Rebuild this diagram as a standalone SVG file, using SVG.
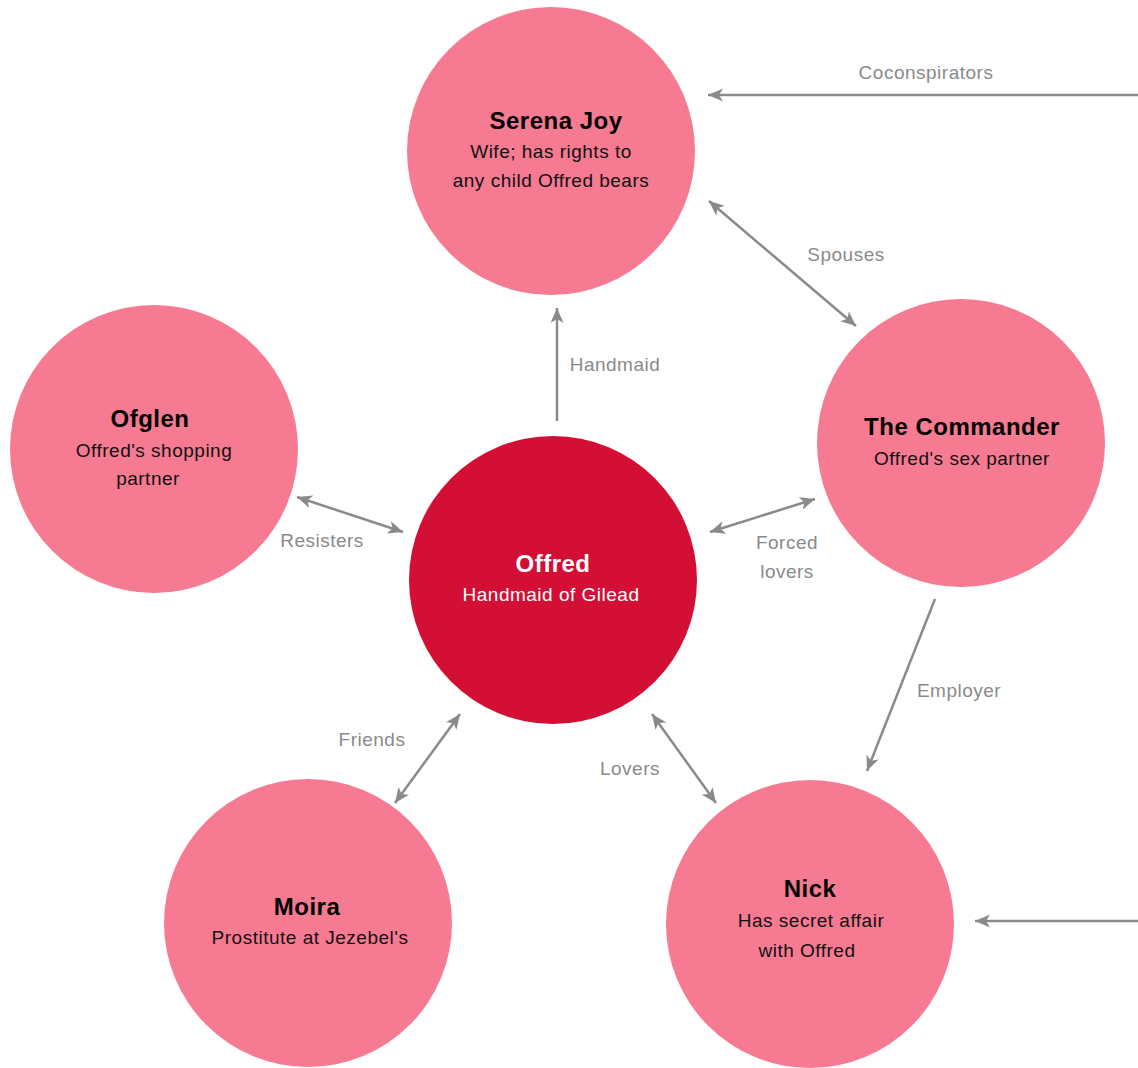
<svg xmlns="http://www.w3.org/2000/svg" width="1138" height="1068" viewBox="0 0 1138 1068">
<style>
.node{fill:#F67A91}
.main{fill:#D30F35}
.t{font-family:"Liberation Sans",Arial,sans-serif;text-anchor:middle;letter-spacing:0.5px}
.title{font-size:24px;font-weight:bold;fill:#000}
.sub{font-size:19px;fill:#111}
.w{fill:#fff}
.lbl{font-family:"Liberation Sans",Arial,sans-serif;font-size:19px;fill:#8a8a8a;text-anchor:middle;letter-spacing:0.5px}
.edge{stroke:#8a8a8a;stroke-width:2.5;fill:none}
</style>
<defs>
<marker id="ah" markerUnits="userSpaceOnUse" markerWidth="16" markerHeight="14" refX="15" refY="6.5" orient="auto-start-reverse" viewBox="0 0 16 13">
<path d="M0,0 L15,6.5 L0,13 L4,6.5 z" fill="#8a8a8a"/>
</marker>
</defs>
<rect width="1138" height="1068" fill="#fff"/>
<g id="connectors">
<line class="edge" x1="1138" y1="95" x2="708" y2="95" marker-end="url(#ah)"/>
<line class="edge" x1="709" y1="201" x2="856" y2="326" marker-start="url(#ah)" marker-end="url(#ah)"/>
<line class="edge" x1="557" y1="421" x2="557" y2="308" marker-end="url(#ah)"/>
<line class="edge" x1="297" y1="497" x2="403" y2="532" marker-start="url(#ah)" marker-end="url(#ah)"/>
<line class="edge" x1="710" y1="532" x2="815" y2="499" marker-start="url(#ah)" marker-end="url(#ah)"/>
<line class="edge" x1="935" y1="599" x2="867" y2="771" marker-end="url(#ah)"/>
<line class="edge" x1="460" y1="714" x2="395" y2="803" marker-start="url(#ah)" marker-end="url(#ah)"/>
<line class="edge" x1="652" y1="714" x2="716" y2="803" marker-start="url(#ah)" marker-end="url(#ah)"/>
<line class="edge" x1="1138" y1="921" x2="975" y2="921" marker-end="url(#ah)"/>
<text class="lbl" x="926" y="79">Coconspirators</text>
<text class="lbl" x="846" y="261">Spouses</text>
<text class="lbl" x="615" y="371">Handmaid</text>
<text class="lbl" x="322" y="547">Resisters</text>
<text class="lbl" x="787" y="549">Forced</text>
<text class="lbl" x="787" y="578">lovers</text>
<text class="lbl" x="959" y="697">Employer</text>
<text class="lbl" x="372" y="746">Friends</text>
<text class="lbl" x="630" y="775">Lovers</text>
</g>
<g id="serena">
<circle class="node" cx="551" cy="151" r="144"/>
<text class="t title" x="556" y="129">Serena Joy</text>
<text class="t sub" x="551" y="158">Wife; has rights to</text>
<text class="t sub" x="551" y="187">any child Offred bears</text>
</g>
<g id="ofglen">
<circle class="node" cx="154" cy="449" r="144"/>
<text class="t title" x="150" y="427">Ofglen</text>
<text class="t sub" x="154" y="457">Offred's shopping</text>
<text class="t sub" x="148" y="485">partner</text>
</g>
<g id="offred">
<circle class="main" cx="553" cy="580" r="144"/>
<text class="t title w" x="553" y="572">Offred</text>
<text class="t sub w" x="551" y="601">Handmaid of Gilead</text>
</g>
<g id="commander">
<circle class="node" cx="961" cy="443" r="144"/>
<text class="t title" x="962" y="435">The Commander</text>
<text class="t sub" x="962" y="465">Offred's sex partner</text>
</g>
<g id="moira">
<circle class="node" cx="308" cy="923" r="144"/>
<text class="t title" x="307" y="915">Moira</text>
<text class="t sub" x="310" y="944">Prostitute at Jezebel's</text>
</g>
<g id="nick">
<circle class="node" cx="810" cy="924" r="144"/>
<text class="t title" x="810" y="897">Nick</text>
<text class="t sub" x="811" y="927">Has secret affair</text>
<text class="t sub" x="807" y="957">with Offred</text>
</g>
</svg>
